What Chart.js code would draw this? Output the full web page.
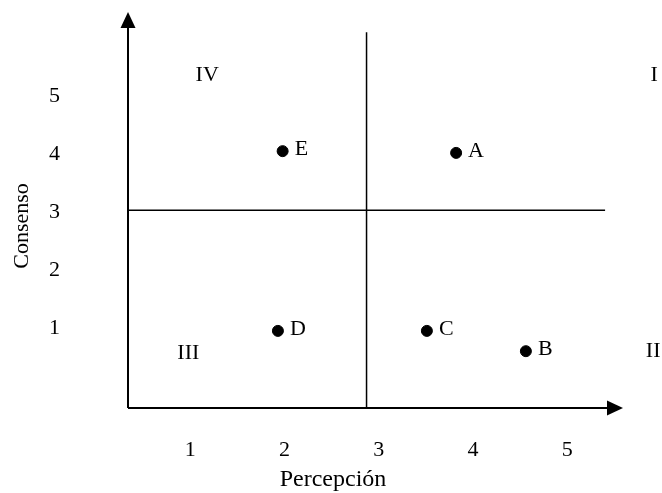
<!DOCTYPE html>
<html>
<head>
<meta charset="utf-8">
<script src="https://cdn.jsdelivr.net/npm/chart.js@4/dist/chart.umd.min.js"></script>
<style>
    html, body { margin: 0; padding: 0; background: #fff; }
</style>
</head>
<body>
<canvas id="quadChart" width="662" height="493"></canvas>
<script>
// data
const pointNames = ["A", "B", "C", "D", "E"];
const percepcion = [3.82, 4.56, 3.51, 1.93, 1.98];
const consenso = [4.02, 0.60, 0.95, 0.95, 4.05];

const xTicks = [1, 2, 3, 4, 5];
const yTicks = [1, 2, 3, 4, 5];

// quadrant names and where they sit (in axis units)
const quadrantNames = ["I", "II", "III", "IV"];
const quadrantX = [5.92, 5.91, 0.98, 1.18];
const quadrantY = [5.36, 0.60, 0.57, 5.36];

// the two dividing lines, as drawn by hand
const dividerX = 2.87;
const dividerY = 3.03;
const dividerTop = 6.10;
const dividerRight = 5.40;

const xRange = [0.34, 5.59];
const yRange = [-0.38, 6.45];

const serif = '"Liberation Serif", "Times New Roman", serif';
const mainFont = { family: serif, size: 22 };

// Helper: axes with arrow heads, labels and titles
const quadrantPlugin = {
    id: "quadrantPlugin",
    afterDraw(chart) {
        const ctx = chart.ctx;
        const area = chart.chartArea;
        const xs = chart.scales.x;
        const ys = chart.scales.y;

        ctx.save();
        ctx.strokeStyle = "#000";
        ctx.fillStyle = "#000";
        ctx.lineWidth = 2;

        // y axis + arrow
        ctx.beginPath();
        ctx.moveTo(area.left, area.bottom);
        ctx.lineTo(area.left, area.top + 15);
        ctx.stroke();
        ctx.beginPath();
        ctx.moveTo(area.left, area.top);
        ctx.lineTo(area.left - 7.5, area.top + 16);
        ctx.lineTo(area.left + 7.5, area.top + 16);
        ctx.closePath();
        ctx.fill();

        // x axis + arrow
        ctx.beginPath();
        ctx.moveTo(area.left, area.bottom);
        ctx.lineTo(area.right - 15, area.bottom);
        ctx.stroke();
        ctx.beginPath();
        ctx.moveTo(area.right, area.bottom);
        ctx.lineTo(area.right - 16, area.bottom - 7.5);
        ctx.lineTo(area.right - 16, area.bottom + 7.5);
        ctx.closePath();
        ctx.fill();

        ctx.font = "22px " + serif;
        ctx.textBaseline = "middle";

        // point letters
        ctx.textAlign = "left";
        chart.getDatasetMeta(0).data.forEach((pt, i) => {
            ctx.fillText(pointNames[i], pt.x + 12, pt.y - 2);
        });

        // quadrant numerals
        ctx.textAlign = "center";
        quadrantNames.forEach((name, i) => {
            ctx.fillText(name, xs.getPixelForValue(quadrantX[i]), ys.getPixelForValue(quadrantY[i]));
        });

        // axis titles
        ctx.translate(22, 226);
        ctx.rotate(-Math.PI / 2);
        ctx.fillText("Consenso", 0, 0);
        ctx.setTransform(1, 0, 0, 1, 0, 0);
        ctx.font = "24px " + serif;
        ctx.fillText("Percepción", 333, 480);
        ctx.restore();
    }
};

const lineStyle = {
    type: "line",
    borderColor: "#000",
    borderWidth: 1.5,
    pointRadius: 0,
    pointHoverRadius: 0,
    fill: false
};

new Chart(document.getElementById("quadChart"), {
    type: "scatter",
    data: {
        datasets: [
            {
                label: "Puntos",
                data: percepcion.map((x, i) => ({ x: x, y: consenso[i] })),
                backgroundColor: "#000",
                borderColor: "#000",
                pointRadius: 5.5,
                pointHoverRadius: 5.5
            },
            Object.assign({}, lineStyle, {
                data: [{ x: dividerX, y: yRange[0] }, { x: dividerX, y: dividerTop }]
            }),
            Object.assign({}, lineStyle, {
                data: [{ x: xRange[0], y: dividerY }, { x: dividerRight, y: dividerY }]
            })
        ]
    },
    options: {
        responsive: false,
        animation: false,
        layout: { padding: { top: 12, right: 39, left: 0, bottom: 0 } },
        plugins: {
            legend: { display: false },
            tooltip: { enabled: false }
        },
        scales: {
            x: {
                type: "linear",
                min: xRange[0],
                max: xRange[1],
                grid: { display: false, drawTicks: false },
                border: { display: false },
                afterBuildTicks: s => { s.ticks = xTicks.map(v => ({ value: v })); },
                afterFit: s => {
                    s.height = 85;
                    s.paddingLeft = 0;
                    s.paddingRight = 0;
                },
                ticks: { font: mainFont, color: "#000", padding: 29, maxRotation: 0 }
            },
            y: {
                type: "linear",
                min: yRange[0],
                max: yRange[1],
                grid: { display: false, drawTicks: false },
                border: { display: false },
                afterBuildTicks: s => { s.ticks = yTicks.map(v => ({ value: v })); },
                afterFit: s => {
                    s.width = 128;
                    s.paddingTop = 0;
                    s.paddingBottom = 0;
                },
                ticks: { font: mainFont, color: "#000", padding: 68 }
            }
        }
    },
    plugins: [quadrantPlugin]
});
</script>
</body>
</html>
